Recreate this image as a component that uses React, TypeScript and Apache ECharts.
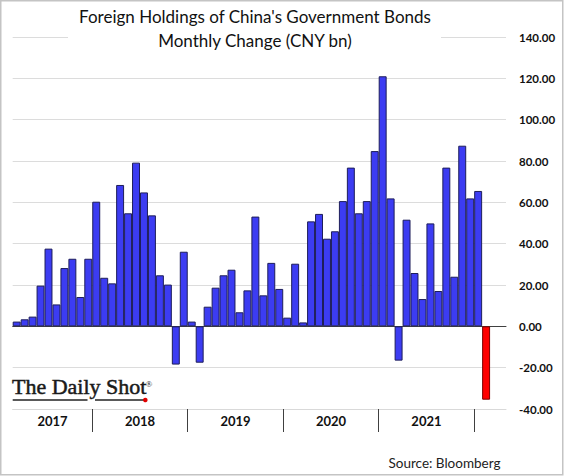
import React, { useEffect, useRef } from "react";
import * as echarts from "echarts";

// Monthly categories (Mar 2017 – Apr 2022; last two months have no data yet)
const months: string[] = [
  "2017-03", "2017-04", "2017-05", "2017-06", "2017-07", "2017-08", "2017-09", "2017-10", "2017-11", "2017-12",
  "2018-01", "2018-02", "2018-03", "2018-04", "2018-05", "2018-06", "2018-07", "2018-08", "2018-09", "2018-10", "2018-11", "2018-12",
  "2019-01", "2019-02", "2019-03", "2019-04", "2019-05", "2019-06", "2019-07", "2019-08", "2019-09", "2019-10", "2019-11", "2019-12",
  "2020-01", "2020-02", "2020-03", "2020-04", "2020-05", "2020-06", "2020-07", "2020-08", "2020-09", "2020-10", "2020-11", "2020-12",
  "2021-01", "2021-02", "2021-03", "2021-04", "2021-05", "2021-06", "2021-07", "2021-08", "2021-09", "2021-10", "2021-11", "2021-12",
  "2022-01", "2022-02", "2022-03", "2022-04",
];

// Monthly change, CNY bn
const values: number[] = [
  2.3, 3.4, 4.7, 19.7, 37.6, 10.6, 28.2, 32.7, 14.2, 32.7,
  60.3, 23.5, 20.8, 68.4, 54.7, 79.2, 64.8, 53.7, 24.7, 20.2, -18.5, 36.1,
  2.3, -17.6, 9.5, 18.7, 24.7, 27.4, 6.8, 17.4, 53.1, 15.0, 30.7, 18.1,
  4.2, 30.3, 1.9, 50.8, 54.4, 42.4, 46.0, 60.6, 76.8, 54.7, 60.6, 84.8,
  121.0, 61.9, -16.6, 51.6, 25.8, 13.2, 49.8, 17.1, 76.8, 24.0, 87.4, 61.9,
  65.5, -35.5,
];

const yearLabels: string[] = ["2017", "2018", "2019", "2020", "2021"];

const yMin = -40;
const yMax = 140;
const yStep = 20;

const titleLines = ["Foreign Holdings of China's Government Bonds", "Monthly Change (CNY bn)"];
const sourceText = "Source: Bloomberg";

export default function App() {
  const ref = useRef<HTMLDivElement>(null);

  useEffect(() => {
    if (!ref.current) return;
    const chart = echarts.init(ref.current, null, { renderer: "svg" });

    // Year boundaries (index of each January) and label positions (segment centres)
    const boundaries: number[] = [];
    months.forEach((m, i) => {
      if (m.endsWith("-01")) boundaries.push(i);
    });
    const labelPositions: number[] = yearLabels.map((y) => {
      const first = months.findIndex((m) => m.startsWith(y));
      let last = -1;
      months.forEach((m, i) => {
        if (m.startsWith(y)) last = i;
      });
      return (first + last + 1) / 2;
    });

    const barData = values.map((v, i) =>
      i === values.length - 1
        ? { value: v, itemStyle: { color: "#ff0000", borderColor: "#7a0000" } }
        : v
    );

    const font = "Lato, 'Open Sans', sans-serif";

    chart.setOption({
      animation: false,
      backgroundColor: "#ffffff",
      grid: { left: 12.7, right: 58, top: 37, bottom: 67, containLabel: false },
      xAxis: [
        {
          type: "category",
          data: months,
          boundaryGap: true,
          axisLine: { show: true, onZero: true, lineStyle: { color: "#404040", width: 1 } },
          axisTick: { show: false },
          axisLabel: { show: false },
          splitLine: { show: false },
        },
        {
          type: "value",
          min: 0,
          max: months.length,
          position: "bottom",
          axisLine: { show: true, onZero: false, lineStyle: { color: "#d9d9d9", width: 1 } },
          axisTick: {
            show: true,
            customValues: boundaries,
            length: 23,
            lineStyle: { color: "#404040", width: 1 },
          },
          axisLabel: {
            show: true,
            customValues: labelPositions,
            formatter: (v: number) => {
              const k = labelPositions.indexOf(v);
              return k >= 0 ? yearLabels[k] : "";
            },
            margin: 5,
            color: "#111",
            fontFamily: font,
            fontWeight: "bold",
            fontSize: 13,
          },
          splitLine: { show: false },
        },
      ],
      yAxis: {
        type: "value",
        position: "right",
        min: yMin,
        max: yMax,
        interval: yStep,
        axisLine: { show: false },
        axisTick: { show: false },
        axisLabel: {
          formatter: (v: number) => v.toFixed(2),
          margin: 13,
          color: "#111",
          fontFamily: font,
          fontWeight: "bold",
          fontSize: 11.5,
        },
        splitLine: { show: true, lineStyle: { color: "#dcdcdc", width: 1 } },
      },
      series: [
        {
          type: "bar",
          xAxisIndex: 0,
          yAxisIndex: 0,
          data: barData,
          barCategoryGap: "0%",
          itemStyle: { color: "#3c3cf2", borderColor: "#1e1e5a", borderWidth: 1 },
        },
      ],
      graphic: [
        {
          type: "rect",
          z: 100,
          shape: { x: 68, y: 0, width: 373, height: 50 },
          style: { fill: "#ffffff" },
        },
        {
          type: "text",
          z: 101,
          x: 255,
          y: 16,
          style: {
            text: titleLines[0],
            font: `17px ${font}`,
            fill: "#111",
            textAlign: "center",
            textVerticalAlign: "middle",
          },
        },
        {
          type: "text",
          z: 101,
          x: 255,
          y: 40,
          style: {
            text: titleLines[1],
            font: `17px ${font}`,
            fill: "#111",
            textAlign: "center",
            textVerticalAlign: "middle",
          },
        },
        {
          type: "text",
          z: 101,
          x: 12,
          y: 397.5,
          style: {
            text: "The Daily Shot",
            font: "22px 'Liberation Serif', 'DejaVu Serif', serif",
            fill: "#1a1a1a",
            stroke: "#1a1a1a",
            lineWidth: 0.5,
            textAlign: "left",
            textVerticalAlign: "bottom",
          },
        },
        {
          type: "text",
          z: 101,
          x: 145.5,
          y: 388,
          style: {
            text: "®",
            font: "9px 'Liberation Serif', serif",
            fill: "#1a1a1a",
            textAlign: "left",
            textVerticalAlign: "bottom",
          },
        },
        {
          type: "line",
          z: 101,
          shape: { x1: 12.7, y1: 400, x2: 87.5, y2: 400 },
          style: { stroke: "#222", lineWidth: 1.3 },
        },
        {
          type: "line",
          z: 101,
          shape: { x1: 95, y1: 400, x2: 145, y2: 400 },
          style: { stroke: "#222", lineWidth: 1.3 },
        },
        {
          type: "circle",
          z: 102,
          shape: { cx: 145.3, cy: 400, r: 2.3 },
          style: { fill: "#e00000" },
        },
        {
          type: "text",
          z: 101,
          x: 500.5,
          y: 462.5,
          style: {
            text: sourceText,
            font: `13.5px ${font}`,
            fill: "#222",
            textAlign: "right",
            textVerticalAlign: "middle",
          },
        },
        {
          type: "rect",
          z: 103,
          shape: { x: 0.75, y: 0.75, width: 562, height: 474 },
          style: { fill: "none", stroke: "#c4c4c4", lineWidth: 1.5 },
        },
      ],
    });

    return () => chart.dispose();
  }, []);

  return (
    <div
      ref={ref}
      style={{ position: "fixed", left: 0, top: 0, width: 564, height: 476 }}
    />
  );
}
